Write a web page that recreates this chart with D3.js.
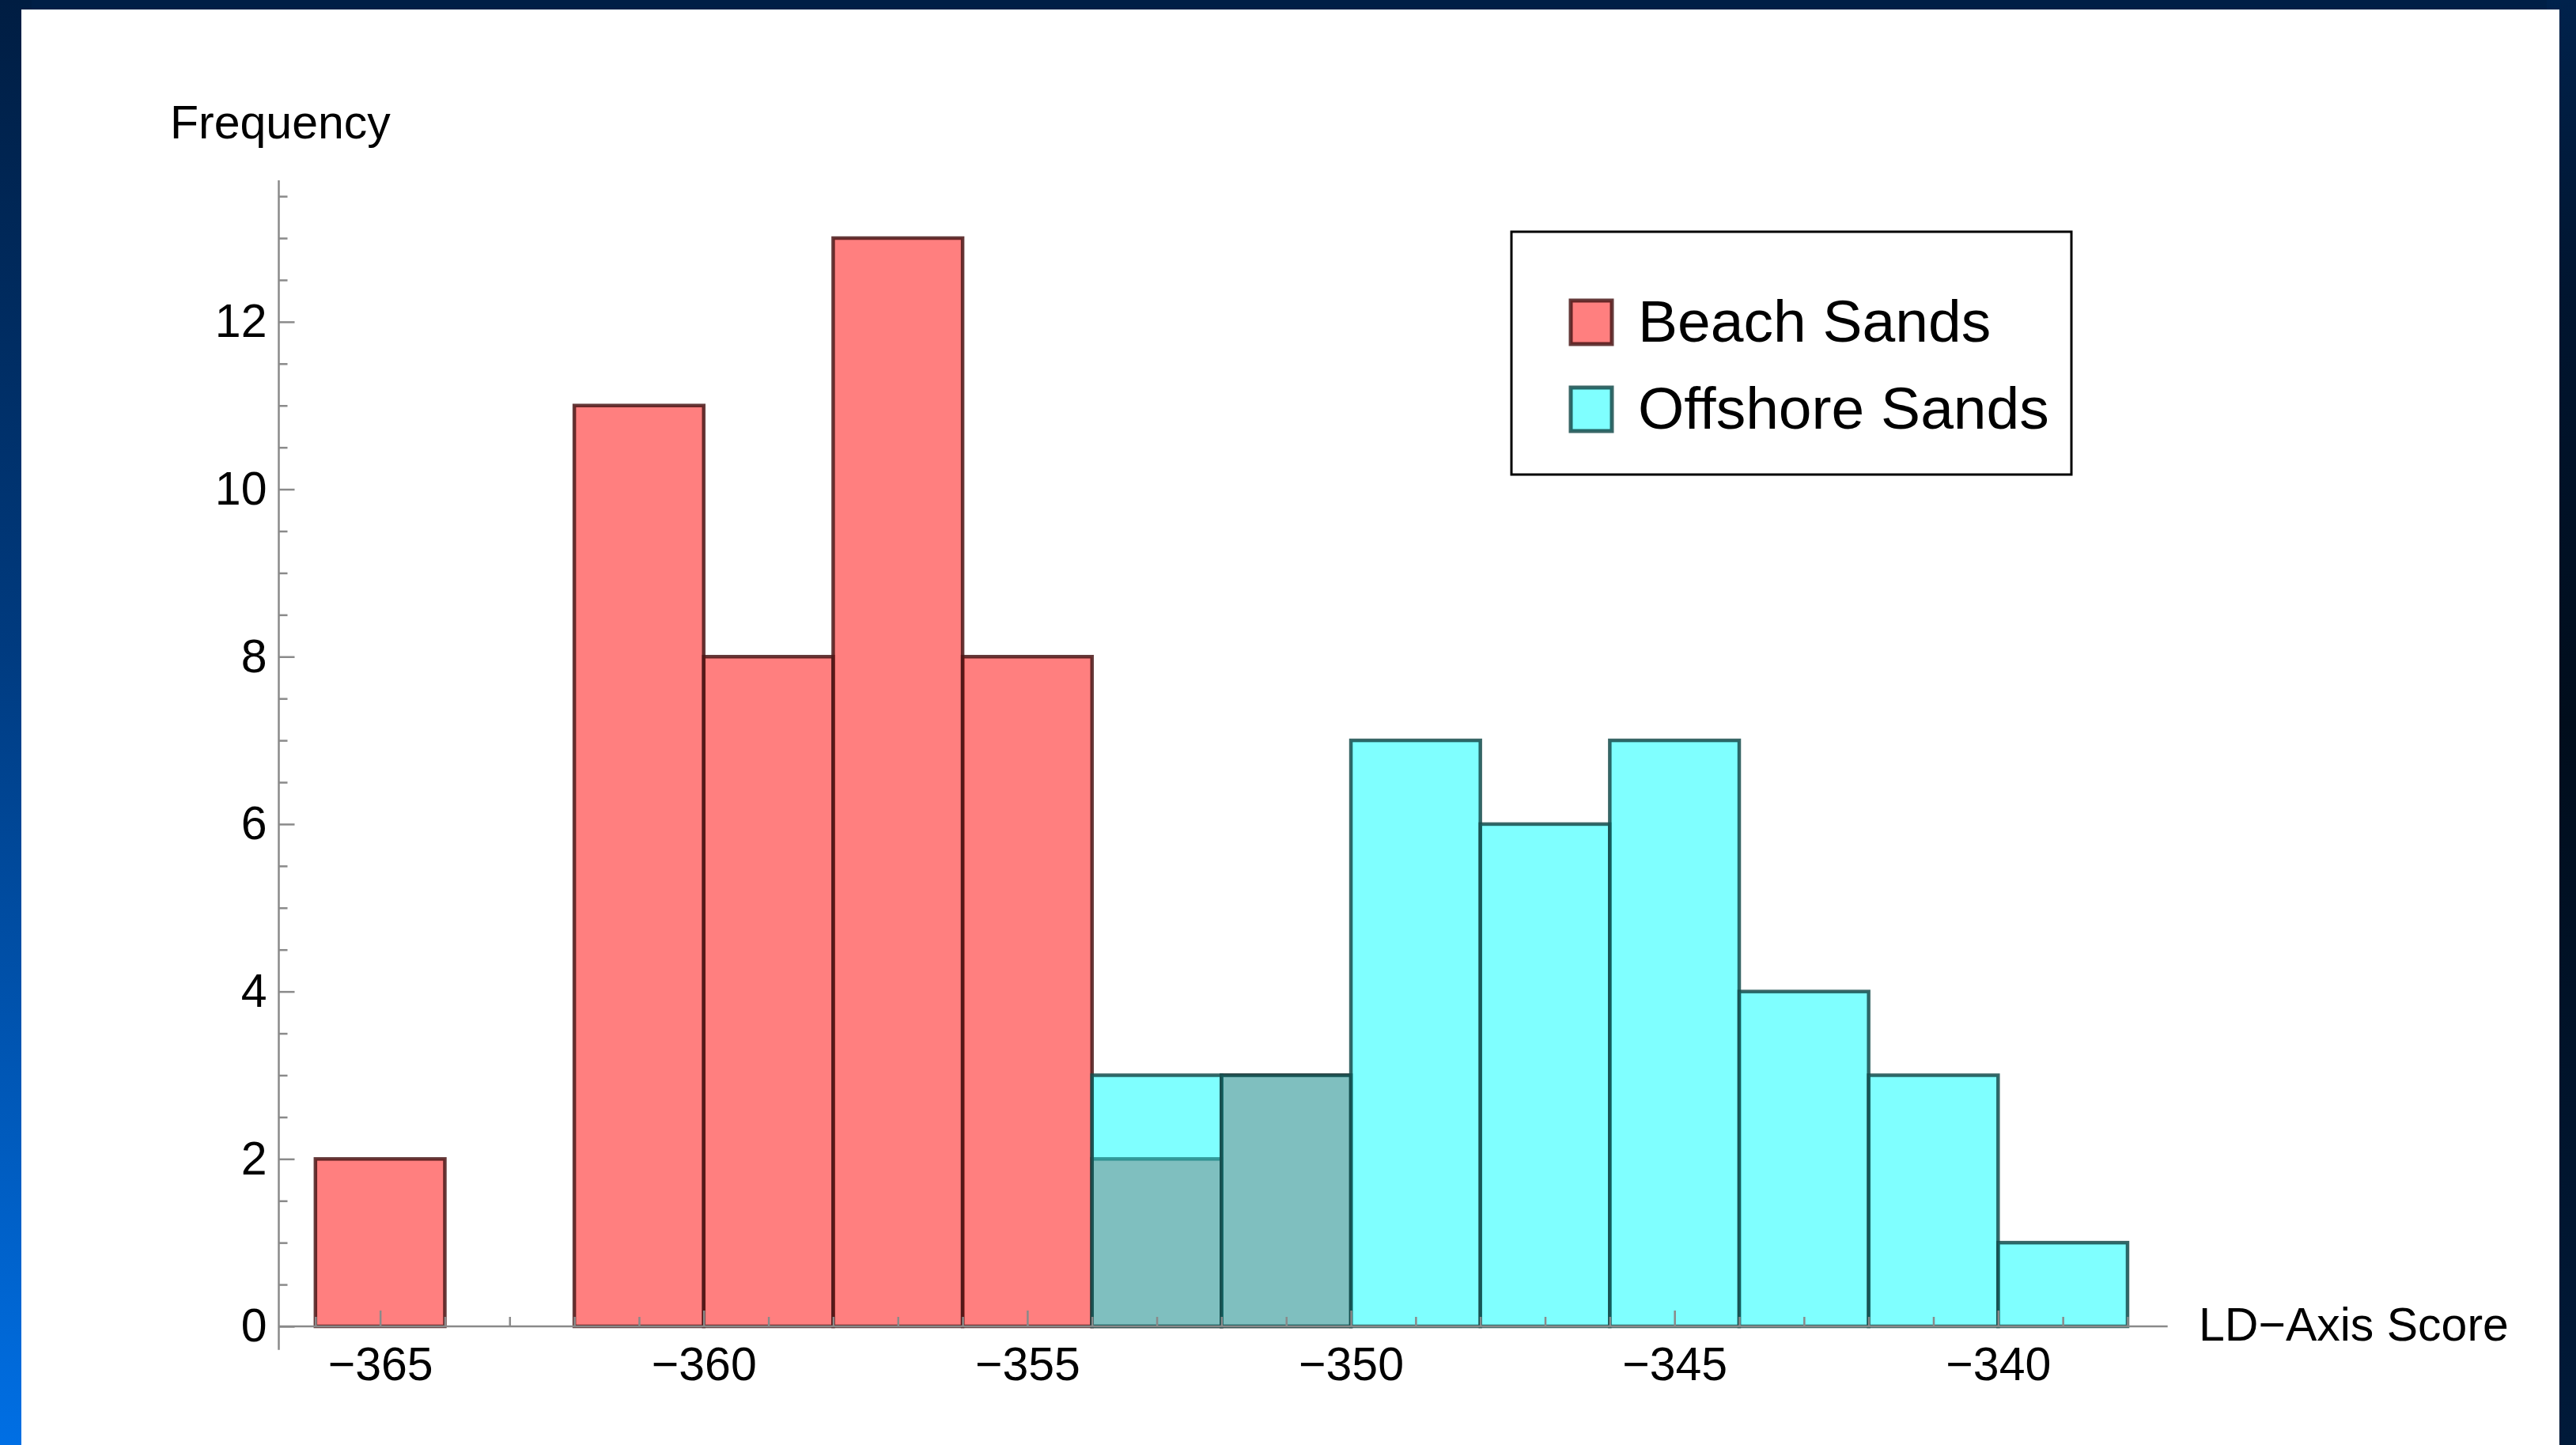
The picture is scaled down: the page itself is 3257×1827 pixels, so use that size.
<!DOCTYPE html>
<html>
<head>
<meta charset="utf-8">
<script src="https://cdn.jsdelivr.net/npm/d3@7"></script>
<style>
  html, body { margin: 0; padding: 0; overflow: hidden; }
  text { font-family: "Liberation Sans", Arial, Helvetica, sans-serif; fill: #000; }
</style>
</head>
<body>
<script>
  var w = 3257;
  var h = 1827;

  // histogram bins (left edge of each bin, width 2) and counts
  var binWidth = 2;
  var beachBins = [-366, -364, -362, -360, -358, -356, -354, -352];
  var beachCounts = [2, 0, 11, 8, 13, 8, 2, 3];
  var offshoreBins = [-354, -352, -350, -348, -346, -344, -342, -340];
  var offshoreCounts = [3, 3, 7, 6, 7, 4, 3, 1];

  var xTicks = [-365, -360, -355, -350, -345, -340];
  var yTicks = [0, 2, 4, 6, 8, 10, 12];
  var seriesNames = ["Beach Sands", "Offshore Sands"];
  var xTitle = "LD\u2212Axis Score";
  var yTitle = "Frequency";

  var beachData = beachBins.map(function(b, i){ return {x0: b, n: beachCounts[i]}; });
  var offshoreData = offshoreBins.map(function(b, i){ return {x0: b, n: offshoreCounts[i]}; });

  var svg = d3.select("body").append("svg")
              .attr("width", w)
              .attr("height", h);

  var defs = svg.append("defs");
  var gl = defs.append("linearGradient").attr("id", "leftGrad")
               .attr("x1", 0).attr("y1", 0).attr("x2", 0).attr("y2", 1);
  gl.append("stop").attr("offset", "0%").attr("stop-color", "#001d42");
  gl.append("stop").attr("offset", "45%").attr("stop-color", "#003b80");
  gl.append("stop").attr("offset", "100%").attr("stop-color", "#006fe4");
  var gr = defs.append("linearGradient").attr("id", "rightGrad")
               .attr("x1", 0).attr("y1", 0).attr("x2", 0).attr("y2", 1);
  gr.append("stop").attr("offset", "0%").attr("stop-color", "#00224c");
  gr.append("stop").attr("offset", "20%").attr("stop-color", "#001530");
  gr.append("stop").attr("offset", "50%").attr("stop-color", "#000d1c");
  gr.append("stop").attr("offset", "100%").attr("stop-color", "#001a3a");

  // background frame
  svg.append("rect").attr("x", 0).attr("y", 0).attr("width", w).attr("height", h)
     .attr("fill", "#001f46");
  svg.append("rect").attr("x", 0).attr("y", 0).attr("width", 40).attr("height", h)
     .attr("fill", "url(#leftGrad)");
  svg.append("rect").attr("x", 3220).attr("y", 0).attr("width", 37).attr("height", h)
     .attr("fill", "url(#rightGrad)");
  svg.append("rect").attr("x", 27).attr("y", 12).attr("width", 3209).attr("height", h)
     .attr("fill", "#ffffff");

  var x = d3.scaleLinear().domain([-366.566, -337.38]).range([352.5, 2740.7]);
  var y = d3.scaleLinear().domain([0, 13.69]).range([1677, 228]);

  // bars: beach first, offshore over it, both half transparent
  svg.append("g").selectAll("rect")
     .data(beachData.filter(function(d){ return d.n > 0; }))
     .enter()
     .append("rect")
     .attr("x", function(d){ return x(d.x0); })
     .attr("y", function(d){ return y(d.n); })
     .attr("width", function(d){ return x(d.x0 + binWidth) - x(d.x0); })
     .attr("height", function(d){ return y(0) - y(d.n); })
     .attr("fill", "#ff0000")
     .attr("fill-opacity", 0.5)
     .attr("stroke", "#4a1818")
     .attr("stroke-opacity", 0.85)
     .attr("stroke-width", 4.5);

  svg.append("g").selectAll("rect")
     .data(offshoreData.filter(function(d){ return d.n > 0; }))
     .enter()
     .append("rect")
     .attr("x", function(d){ return x(d.x0); })
     .attr("y", function(d){ return y(d.n); })
     .attr("width", function(d){ return x(d.x0 + binWidth) - x(d.x0); })
     .attr("height", function(d){ return y(0) - y(d.n); })
     .attr("fill", "#00ffff")
     .attr("fill-opacity", 0.5)
     .attr("stroke", "#164c4c")
     .attr("stroke-opacity", 0.85)
     .attr("stroke-width", 4.5);

  var axisColor = "#8a8a8a";

  // axis lines
  svg.append("line")
     .attr("x1", x.range()[0]).attr("x2", x.range()[1])
     .attr("y1", y(0)).attr("y2", y(0))
     .attr("stroke", axisColor).attr("stroke-width", 2.5);
  svg.append("line")
     .attr("x1", x.range()[0]).attr("x2", x.range()[0])
     .attr("y1", y(13.69)).attr("y2", y(-0.28))
     .attr("stroke", axisColor).attr("stroke-width", 2.5);

  // minor ticks
  var xMinor = d3.range(-366, -337).filter(function(v){ return xTicks.indexOf(v) < 0; });
  var yMinor = d3.range(0.5, 13.6, 0.5).filter(function(v){ return yTicks.indexOf(v) < 0; });

  svg.append("g")
     .attr("transform", "translate(0," + y(0) + ")")
     .call(d3.axisBottom(x).tickValues(xMinor).tickSize(-12).tickFormat(""))
     .call(function(g){ g.select(".domain").remove(); })
     .selectAll("line").attr("stroke", axisColor).attr("stroke-width", 2.5);

  svg.append("g")
     .attr("transform", "translate(" + x.range()[0] + ",0)")
     .call(d3.axisLeft(y).tickValues(yMinor).tickSize(-11).tickFormat(""))
     .call(function(g){ g.select(".domain").remove(); })
     .selectAll("line").attr("stroke", axisColor).attr("stroke-width", 2.5);

  // major ticks with labels
  var xAxisG = svg.append("g")
     .attr("transform", "translate(0," + y(0) + ")")
     .call(d3.axisBottom(x).tickValues(xTicks).tickSize(-20).tickPadding(26));
  xAxisG.select(".domain").remove();
  xAxisG.selectAll("line").attr("stroke", axisColor).attr("stroke-width", 2.5);
  xAxisG.selectAll("text")
        .attr("font-size", "59px")
        .attr("font-family", "Liberation Sans, Arial, sans-serif")
        .attr("fill", "#000");

  var yAxisG = svg.append("g")
     .attr("transform", "translate(" + x.range()[0] + ",0)")
     .call(d3.axisLeft(y).tickValues(yTicks).tickSize(-20).tickPadding(15));
  yAxisG.select(".domain").remove();
  yAxisG.selectAll("line").attr("stroke", axisColor).attr("stroke-width", 2.5);
  yAxisG.selectAll("text")
        .attr("font-size", "59px")
        .attr("font-family", "Liberation Sans, Arial, sans-serif")
        .attr("fill", "#000");

  // axis titles
  svg.append("text")
     .text(yTitle)
     .attr("x", 215)
     .attr("y", 175)
     .attr("font-size", "59px");

  svg.append("text")
     .text(xTitle)
     .attr("x", 2780)
     .attr("y", 1695)
     .attr("font-size", "59px");

  // legend
  var legend = svg.append("g");
  legend.append("rect")
        .attr("x", 1911).attr("y", 293)
        .attr("width", 708).attr("height", 307)
        .attr("fill", "#fff")
        .attr("stroke", "#000")
        .attr("stroke-width", 3);

  var legendFill = ["#ff0000", "#00ffff"];
  var legendStroke = ["#4a1818", "#164c4c"];

  legend.selectAll(".sw")
        .data(seriesNames)
        .enter()
        .append("rect")
        .attr("class", "sw")
        .attr("x", 1986)
        .attr("y", function(d, i){ return 380 + i*110; })
        .attr("width", 52)
        .attr("height", 55)
        .attr("fill", function(d, i){ return legendFill[i]; })
        .attr("fill-opacity", 0.5)
        .attr("stroke", function(d, i){ return legendStroke[i]; })
        .attr("stroke-opacity", 0.85)
        .attr("stroke-width", 5);

  legend.selectAll(".lbl")
        .data(seriesNames)
        .enter()
        .append("text")
        .attr("class", "lbl")
        .text(function(d){ return d; })
        .attr("x", 2071)
        .attr("y", function(d, i){ return 432 + i*110; })
        .attr("font-size", "75px");
</script>
</body>
</html>
